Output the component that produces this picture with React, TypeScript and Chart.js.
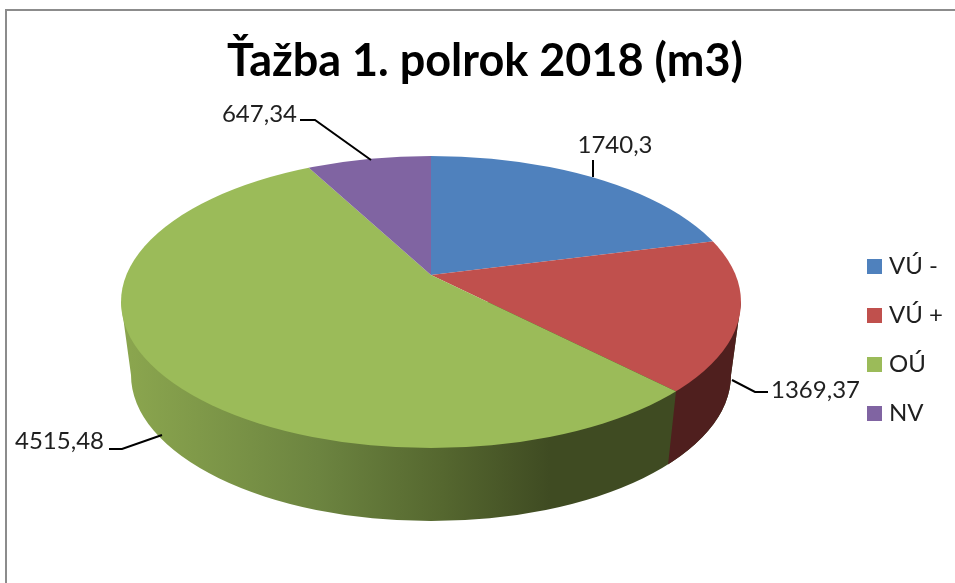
import React, { useEffect, useRef } from "react";
import { Chart, registerables } from "chart.js";

Chart.register(...registerables);

const titleText = "Ťažba 1. polrok 2018 (m3)";
const categories = ["VÚ -", "VÚ +", "OÚ", "NV"];
const volumes = [1740.3, 1369.37, 4515.48, 647.34];
const sliceColors = ["#4f81bd", "#c0504d", "#9bbb59", "#8064a2"];
const FONT = "Lato, Carlito, sans-serif";

// Projection of the flat pie onto the tilted disc
const apex = { x: 431, y: 275 };
const tilt = 0.47;
const topDisc = { cx: 431, cy: 302, rx: 310, ry: 146 };
const baseDisc = { cx: 431, cy: 375, rx: 300, ry: 146 };

// Leader lines and label anchors, by category index
const leaders = [
  { path: [[593, 177], [593, 160]], tx: 615, ty: 145, align: "center" },
  { path: [[732, 380], [755, 392], [768, 392]], tx: 771, ty: 390, align: "left" },
  { path: [[162, 435], [122, 449], [109, 449]], tx: 104, ty: 441, align: "right" },
  { path: [[371, 160], [315, 120], [300, 120]], tx: 297, ty: 114, align: "right" },
];

const ellipsePath = (ctx: CanvasRenderingContext2D, d: typeof topDisc) => {
  ctx.beginPath();
  ctx.ellipse(d.cx, d.cy, d.rx, d.ry, 0, 0, Math.PI * 2);
};

// Where a slice boundary meets the rim of the top disc
const rimPoint = (angle: number) => {
  const dx = Math.cos(angle);
  const dy = Math.sin(angle) * tilt;
  const ox = apex.x - topDisc.cx;
  const oy = apex.y - topDisc.cy;
  const a = (dx * dx) / topDisc.rx ** 2 + (dy * dy) / topDisc.ry ** 2;
  const b = 2 * ((ox * dx) / topDisc.rx ** 2 + (oy * dy) / topDisc.ry ** 2);
  const c = (ox * ox) / topDisc.rx ** 2 + (oy * oy) / topDisc.ry ** 2 - 1;
  const t = (-b + Math.sqrt(b * b - 4 * a * c)) / (2 * a);
  return { x: apex.x + dx * t, y: apex.y + dy * t };
};

const wallPath = (ctx: CanvasRenderingContext2D) => {
  ctx.beginPath();
  ctx.moveTo(topDisc.cx - topDisc.rx, topDisc.cy);
  ctx.lineTo(baseDisc.cx - baseDisc.rx, baseDisc.cy);
  ctx.ellipse(baseDisc.cx, baseDisc.cy, baseDisc.rx, baseDisc.ry, 0, Math.PI, 0, true);
  ctx.lineTo(topDisc.cx + topDisc.rx, topDisc.cy);
  ctx.closePath();
};

const piePlugin = {
  id: "tiltedPie",
  beforeDraw(chart: any) {
    const { ctx, width, height } = chart;
    ctx.save();
    ctx.fillStyle = "#ffffff";
    ctx.fillRect(0, 0, width, height);
    ctx.fillStyle = "#8c8c8c";
    ctx.fillRect(5, 9, width - 5, 2);
    ctx.fillRect(5, 9, 2, height - 9);
    ctx.restore();
  },
  beforeDatasetsDraw(chart: any) {
    const { ctx } = chart;
    const arcs = chart.getDatasetMeta(0).data;
    const split = rimPoint(arcs[1].endAngle);
    const k = baseDisc.rx / topDisc.rx;
    const splitBase = {
      x: baseDisc.cx + (split.x - topDisc.cx) * k,
      y: baseDisc.cy + (split.y - topDisc.cy),
    };

    ctx.save();
    const shade = ctx.createLinearGradient(baseDisc.cx - baseDisc.rx, 0, splitBase.x, 0);
    shade.addColorStop(0, "#8aa54e");
    shade.addColorStop(0.35, "#6c8440");
    shade.addColorStop(0.58, "#55672f");
    shade.addColorStop(0.78, "#3f4b22");
    shade.addColorStop(1, "#3f4b22");
    wallPath(ctx);
    ctx.fillStyle = shade;
    ctx.fill();

    ctx.save();
    ctx.beginPath();
    ctx.moveTo(split.x, split.y);
    ctx.lineTo(splitBase.x, splitBase.y);
    ctx.lineTo(splitBase.x, chart.height);
    ctx.lineTo(chart.width, chart.height);
    ctx.lineTo(chart.width, 0);
    ctx.lineTo(split.x, 0);
    ctx.closePath();
    ctx.clip();
    wallPath(ctx);
    ctx.fillStyle = "#4f1f1e";
    ctx.fill();
    ctx.restore();
    ctx.restore();

    ctx.save();
    ellipsePath(ctx, topDisc);
    ctx.clip();
    ctx.translate(apex.x, apex.y);
    ctx.scale(1, tilt);
    ctx.translate(-arcs[0].x, -arcs[0].y);
  },
  afterDatasetsDraw(chart: any) {
    const { ctx } = chart;
    ctx.restore();
    ctx.save();
    ctx.strokeStyle = "#000000";
    ctx.lineWidth = 2;
    leaders.forEach((l) => {
      ctx.beginPath();
      l.path.forEach(([x, y], i) => (i ? ctx.lineTo(x, y) : ctx.moveTo(x, y)));
      ctx.stroke();
    });
    ctx.fillStyle = "#1f1f1f";
    ctx.font = `24px ${FONT}`;
    ctx.textBaseline = "middle";
    volumes.forEach((v, i) => {
      const l = leaders[i];
      ctx.textAlign = l.align as CanvasTextAlign;
      ctx.fillText(String(v).replace(".", ","), l.tx, l.ty);
    });
    ctx.restore();
  },
};

const swatch = (color: string) => {
  const c = document.createElement("canvas");
  c.width = 15;
  c.height = 15;
  const g = c.getContext("2d")!;
  g.fillStyle = color;
  g.fillRect(0, 0, 15, 15);
  return c;
};

export default function App() {
  const ref = useRef<HTMLCanvasElement>(null);
  useEffect(() => {
    document.body.style.margin = "0";
    const chart = new Chart(ref.current!, {
      type: "pie",
      data: {
        labels: categories,
        datasets: [
          {
            data: volumes,
            backgroundColor: sliceColors,
            borderWidth: 0,
            clip: false,
          } as any,
        ],
      },
      options: {
        responsive: false,
        animation: false,
        radius: 520,
        layout: { padding: { left: 17, right: 2, top: 34, bottom: 3 } },
        plugins: {
          title: {
            display: true,
            text: titleText,
            color: "#000000",
            font: { family: FONT, size: 45, weight: "bold" },
            padding: { top: 0, bottom: 12 },
          },
          legend: {
            position: "right",
            fullSize: false,
            labels: {
              color: "#1f1f1f",
              font: { family: FONT, size: 24 },
              usePointStyle: true,
              boxWidth: 6,
              boxHeight: 15,
              padding: 25,
              generateLabels: () =>
                categories.map((text, index) => ({
                  text,
                  index,
                  fillStyle: sliceColors[index],
                  strokeStyle: sliceColors[index],
                  lineWidth: 0,
                  hidden: false,
                  pointStyle: swatch(sliceColors[index]),
                  fontColor: "#1f1f1f",
                })),
            },
          },
          tooltip: { enabled: false },
        },
      } as any,
      plugins: [piePlugin],
    });
    return () => chart.destroy();
  }, []);
  return (
    <canvas
      ref={ref}
      width={955}
      height={583}
      style={{ display: "block", width: 955, height: 583 }}
    />
  );
}
